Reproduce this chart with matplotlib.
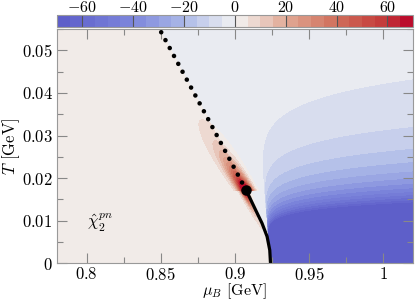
import numpy as np
import matplotlib
matplotlib.use("Agg")
import matplotlib.pyplot as plt
from matplotlib.colors import LinearSegmentedColormap
from matplotlib.ticker import FuncFormatter, MultipleLocator

plt.rcParams['mathtext.fontset'] = 'cm'
plt.rcParams['font.family'] = 'serif'
plt.rcParams['font.serif'] = ['cmr10', 'DejaVu Serif']
plt.rcParams['axes.formatter.use_mathtext'] = True
plt.rcParams['font.size'] = 12

# first-order line (solid) and crossover (dotted)
solid_T = [0.0, 0.0031, 0.0063, 0.0094, 0.0125, 0.0171]
solid_mu = [0.9240, 0.9235, 0.9217, 0.9183, 0.9140, 0.9077]
dot_T = [0.0171, 0.0337, 0.0560]
dot_mu = [0.9077, 0.8822, 0.8476]
cep_mu, cep_T = 0.9077, 0.0171

# colour levels and colourbar ticks
levels = np.arange(-70, 75, 5)
cbar_ticks = [-60, -40, -20, 0, 20, 40, 60]
x_ticks = [0.8, 0.85, 0.9, 0.95, 1.0]
y_ticks = [0, 0.01, 0.02, 0.03, 0.04, 0.05]

# colour anchors (value, rgb)
cmap_vals = [-70, -40, -20, -2.5, 0, 2.5, 20, 40, 60, 70]
cmap_rgb = [(92, 92, 200), (125, 135, 220), (172, 185, 232), (233, 235, 241),
            (238, 238, 240), (241, 235, 232), (225, 170, 150), (208, 110, 90),
            (195, 55, 55), (185, 0, 40)]

# field parameters estimated from the contour positions
base_left, base_right = 2.5, 2.5
fan_c, fan_p, fan_q = 5.84e-3, 2.35, 0.28
ref_mu0, ref_slope = 0.9235, 0.24
ridge_amp = 100.0
tau_up, tau_down = 0.0045, 0.0024

line_T = np.array(solid_T + dot_T[1:])
line_mu = np.array(solid_mu + dot_mu[1:])

mu = np.linspace(0.78, 1.02, 900)
T = np.linspace(0.0, 0.056, 600)
M, TT = np.meshgrid(mu, T)
u = M - np.interp(TT, line_T, line_mu)
t = TT - cep_T

# blue fan right of the transition
d2 = np.clip(M - (ref_mu0 - ref_slope * TT), 0, None)
fan = fan_c * np.maximum(TT, 1e-5) ** (-fan_p) * d2 ** fan_q
chi = np.where(u < 0, base_left, -np.maximum(fan, base_right))

# red ridge along the crossover near the critical point
tau = np.where(t > 0, tau_up, tau_down)
sig = np.where(t > 0, 0.003 + 0.2 * t, 0.0018)
u0 = np.where(t > 0, -0.25 * t, -0.001)
ridge = ridge_amp * np.exp(-np.abs(t) / tau) * np.exp(-(u - u0) ** 2 / (2 * sig ** 2))
ridge = np.where((u > 0) & (t < 0), 0.3 * ridge, ridge)
chi = np.clip(chi + ridge, -69.99, 69.99)

pos = [(v - cmap_vals[0]) / (cmap_vals[-1] - cmap_vals[0]) for v in cmap_vals]
cmap = LinearSegmentedColormap.from_list(
    'chi', list(zip(pos, [tuple(c / 255 for c in rgb) for rgb in cmap_rgb])))

fig = plt.figure(figsize=(4.15, 3.02), dpi=100)
ax = fig.add_axes([0.137, 0.128, 0.858, 0.776])
cax = fig.add_axes([0.137, 0.911, 0.858, 0.039])

cs = ax.contourf(M, TT, chi, levels=levels, cmap=cmap)

ax.plot(solid_mu, solid_T, color='k', lw=2.3, solid_capstyle='round')
ax.plot(dot_mu, dot_T, color='k', lw=3.3, dashes=(0.01, 1.95),
        dash_capstyle='round')
ax.plot([cep_mu], [cep_T], 'o', color='k', ms=6.5)

ax.text(0.8, 0.0095, r'$\hat{\chi}_2^{pn}$', ha='left', va='center', fontsize=12)

ax.set_xlim(0.78, 1.02)
ax.set_ylim(0, 0.055)
ax.set_xticks(x_ticks)
ax.set_yticks(y_ticks)
ax.xaxis.set_minor_locator(MultipleLocator(0.025))
ax.yaxis.set_minor_locator(MultipleLocator(0.005))
fmt = FuncFormatter(lambda v, p: f'${v:g}$')
ax.xaxis.set_major_formatter(fmt)
ax.yaxis.set_major_formatter(fmt)
ax.tick_params(which='both', direction='in', top=True, right=True,
               color='#888888', width=0.8)
ax.tick_params(which='major', length=7, pad=3)
ax.tick_params(axis='x', which='major', pad=2)
ax.tick_params(which='minor', length=4.3)
for s in ax.spines.values():
    s.set_color('#999999')
    s.set_linewidth(0.8)
ax.set_xlabel(r'$\mu_B$ [GeV]', labelpad=-1, fontsize=11.5)
ax.set_ylabel(r'$T$ [GeV]', labelpad=0)

cb = fig.colorbar(cs, cax=cax, orientation='horizontal', ticks=cbar_ticks)
cax.xaxis.set_ticks_position('top')
cax.xaxis.set_major_formatter(fmt)
cax.tick_params(direction='in', length=8.6, color='#555555', width=0.8,
                pad=0, labelsize=11.5)
cb.outline.set_edgecolor('#999999')
cb.outline.set_linewidth(0.8)
cax.set_xlim(-70, 70)

fig.savefig('out.png', dpi=100)
